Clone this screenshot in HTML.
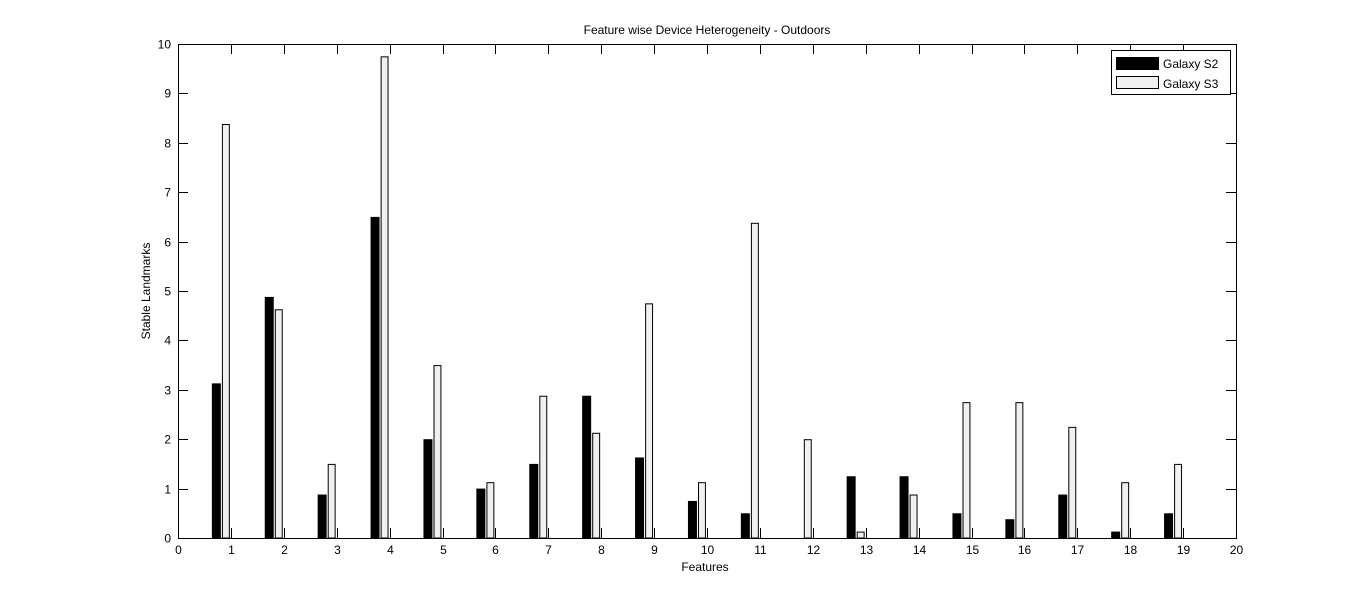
<!DOCTYPE html>
<html><head><meta charset="utf-8"><style>
body{margin:0;background:#fff;}
svg{display:block;font-family:"Liberation Sans",sans-serif;}
</style></head><body>
<svg id="c" width="1366" height="605">
<rect x="0" y="0" width="1366" height="605" fill="#fff"/>
</svg>
<script>
const categories=[1,2,3,4,5,6,7,8,9,10,11,12,13,14,15,16,17,18,19];
const seriesS2=[3.13,4.88,0.88,6.5,2,1,1.5,2.88,1.63,0.75,0.5,0,1.25,1.25,0.5,0.38,0.88,0.13,0.5];
const seriesS3=[8.38,4.63,1.5,9.75,3.5,1.13,2.88,2.13,4.75,1.13,6.38,2,0.13,0.88,2.75,2.75,2.25,1.13,1.5];
const xTicks=[0,1,2,3,4,5,6,7,8,9,10,11,12,13,14,15,16,17,18,19,20];
const yTicks=[0,1,2,3,4,5,6,7,8,9,10];
const NS="http://www.w3.org/2000/svg";
const svg=document.getElementById('c');
const L=178,R=1236,T=44,B=538;
const xs=v=>L+(R-L)*v/20, ys=v=>B-(B-T)*v/10;
function mk(t,a,txt){const e=document.createElementNS(NS,t);for(const k in a)e.setAttribute(k,a[k]);if(txt!=null)e.textContent=txt;svg.appendChild(e);return e;}
categories.forEach((c,i)=>{
 let e=mk('rect',{x:xs(c-0.36),y:ys(seriesS2[i]),width:xs(c-0.19)-xs(c-0.36),height:B-ys(seriesS2[i]),fill:'#000'});
 
 
 e=mk('rect',{x:xs(c-0.17)+0.5,y:ys(seriesS3[i])+0.5,width:xs(c-0.02)-xs(c-0.17)-1,height:B-ys(seriesS3[i])-0.5,fill:'#f0f0f0',stroke:'#000','stroke-width':1});
 
 
});
mk('rect',{x:L+0.5,y:T+0.5,width:R-L,height:B-T,fill:'none',stroke:'#000'});
xTicks.forEach(t=>{const x=Math.round(xs(t))+0.5;
 mk('line',{x1:x,x2:x,y1:B,y2:B-10,stroke:'#000'});mk('line',{x1:x,x2:x,y1:T,y2:T+10,stroke:'#000'});
 const e=mk('text',{x:x,y:B+16,'text-anchor':'middle','font-size':12},t);
 
 
});
yTicks.forEach(t=>{const y=Math.round(ys(t))+0.5;
 mk('line',{x1:L,x2:L+10,y1:y,y2:y,stroke:'#000'});mk('line',{x1:R-10,x2:R,y1:y,y2:y,stroke:'#000'});
 const e=mk('text',{x:L-7,y:y+4,'text-anchor':'end','font-size':12},t);
 
 
});
let e=mk('text',{x:707,y:34,'text-anchor':'middle','font-size':12},'Feature wise Device Heterogeneity - Outdoors');


e=mk('text',{x:705,y:571,'text-anchor':'middle','font-size':12},'Features');


e=mk('text',{x:150,y:291,'text-anchor':'middle','font-size':12,transform:'rotate(-90 150 291)'},'Stable Landmarks');


e=mk('rect',{x:1111.5,y:50.5,width:119,height:44,fill:'#fff',stroke:'#000'});


mk('rect',{x:1116,y:57,width:43,height:13,fill:'#000'});
mk('rect',{x:1116.5,y:76.5,width:42,height:12,fill:'#f0f0f0',stroke:'#000'});
e=mk('text',{x:1163,y:68,'font-size':12},'Galaxy S2');


e=mk('text',{x:1163,y:88,'font-size':12},'Galaxy S3');


</script>
</body></html>
